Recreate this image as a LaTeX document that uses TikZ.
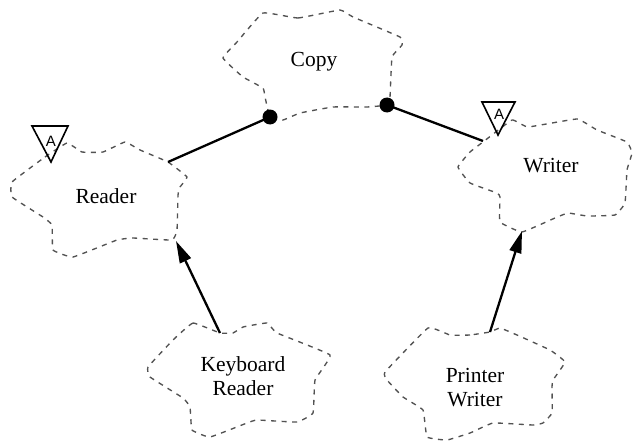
\documentclass[tikz,border=0pt]{standalone}
\usepackage{fontspec}
\setmainfont{Liberation Serif}
\setsansfont{Liberation Sans}
\usetikzlibrary{arrows.meta}
\begin{document}
\begin{tikzpicture}[x=1pt,y=-1pt,
  cloud/.style={draw=black!68, line width=1.35pt, dash pattern=on 5pt off 5.5pt},
  lbl/.style={font=\fontsize{21.5}{24}\selectfont, align=center, inner sep=0pt},
  absmark/.style={draw=black, line width=1.6pt, line join=miter},
  absletter/.style={font=\sffamily\fontsize{15}{15}\selectfont, inner sep=0pt},
  assoc/.style={draw=black, line width=2.3pt},
  inherit/.style={draw=black, line width=2.3pt, -{Triangle[length=22pt,width=12pt]}},
  dot/.style={circle, fill=black, inner sep=0pt, minimum size=15pt}
]
\useasboundingbox (0,0) rectangle (636,441);

% clouds
\draw[cloud] plot[smooth cycle, tension=0.18] coordinates {(263,13) (298,18) (340,10) (353,17) (400,37) (402,45) (392,57) (390,97) (387,105) (367,107) (333,107) (300,113) (283,120) (270,117) (265,97) (263,88) (243,77) (223,58) (237,42)};
\draw[cloud] plot[smooth cycle, tension=0.18] coordinates {(12,182) (45,157) (67,143) (82,152) (103,152) (125,142) (140,150) (168,162) (187,177) (180,187) (178,195) (177,230) (172,240) (133,238) (117,240) (73,257) (53,250) (52,225) (43,217) (12,197)};
\draw[cloud] plot[smooth cycle, tension=0.18] coordinates {(483,142) (512,120) (528,127) (577,119) (597,130) (627,142) (632,153) (627,170) (625,203) (615,215) (587,216) (568,213) (555,218) (522,232) (500,222) (500,197) (497,193) (470,183) (458,167) (470,152)};
\draw[cloud] plot[smooth cycle, tension=0.18] coordinates {(220,333) (193,323) (173,340) (148,367) (150,377) (183,398) (190,407) (192,430) (210,437) (247,423) (257,420) (297,422) (313,413) (315,380) (330,355) (277,333) (267,323) (243,327) (233,333)};
\draw[cloud] plot[smooth cycle, tension=0.18] coordinates {(490,332) (470,335) (450,335) (428,328) (385,372) (387,380) (403,397) (423,410) (427,437) (447,440) (470,433) (493,423) (533,425) (543,423) (552,413) (552,387) (553,380) (565,362) (550,350) (517,335) (500,328)};

% labels
\node[lbl] (copy) at (314,62) {Copy};
\node[lbl] (reader) at (106,196) {Reader};
\node[lbl] (writer) at (551,166) {Writer};
\node[lbl] (kbd) at (243,376) {Keyboard\\Reader};
\node[lbl] (prn) at (475,388) {Printer\\Writer};

% attachment points
\coordinate (readerA) at (168,162);
\coordinate (writerA) at (483,141);
\coordinate (readerIn) at (176,241);
\coordinate (writerIn) at (522,231);
\coordinate (kbdOut) at (220,333);
\coordinate (prnOut) at (490,332);

% abstract marks
\draw[absmark] (32,126) -- (68,126) -- (51,162) -- cycle;
\node[absletter] (absR) at (51,141) {A};
\draw[absmark] (482,102) -- (515,102) -- (498,135) -- cycle;
\node[absletter] (absW) at (499,114) {A};

% associations
\node[dot] (dotL) at (270,117) {};
\node[dot] (dotR) at (387,105) {};
\draw[assoc] (readerA) -- (dotL.center);
\draw[assoc] (dotR.center) -- (writerA);

% inheritance
\draw[inherit] (kbdOut) -- (readerIn);
\draw[inherit] (prnOut) -- (writerIn);
\end{tikzpicture}
\end{document}
